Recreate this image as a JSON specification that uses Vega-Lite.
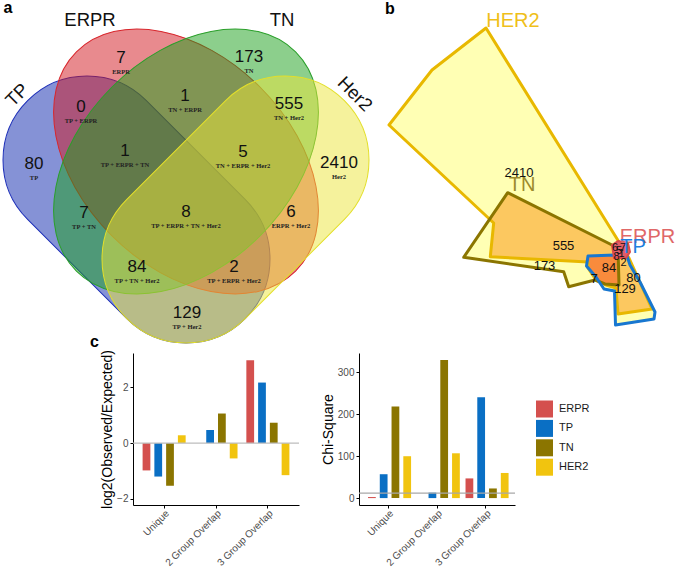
{
  "$schema": "https://vega.github.io/schema/vega-lite/v6.json",
  "padding": 0,
  "background": "white",
  "config": {
    "font": "Liberation Sans",
    "view": {"stroke": null},
    "axis": {"grid": false, "domainColor": "#000", "domainWidth": 1, "tickColor": "#000", "tickSize": 3, "tickWidth": 1, "labelColor": "#4d4d4d", "labelFontSize": 10, "labelFont": "Liberation Sans", "titleFont": "Liberation Sans", "titleFontSize": 14, "titleFontWeight": "normal", "titleColor": "#000", "titlePadding": 2, "labelPadding": 2}
  },
  "datasets": {
    "venn_shapes": [
      {"set": "TP", "vx": 134.5, "vy": 209.5},
      {"set": "ERPR", "vx": 184, "vy": 161.5},
      {"set": "TN", "vx": 184, "vy": 161.5},
      {"set": "Her2", "vx": 233.5, "vy": 209.5}
    ],
    "venn_regions": [
      {"lab": "ERPR", "n": "7", "vx": 119, "vy": 58},
      {"lab": "TN", "n": "173", "vx": 247, "vy": 57},
      {"lab": "TP + ERPR", "n": "0", "vx": 79, "vy": 107},
      {"lab": "TN + ERPR", "n": "1", "vx": 183, "vy": 96},
      {"lab": "TN + Her2", "n": "555", "vx": 287, "vy": 104},
      {"lab": "TP", "n": "80", "vx": 32, "vy": 164},
      {"lab": "TP + ERPR + TN", "n": "1", "vx": 123, "vy": 151},
      {"lab": "TN + ERPR + Her2", "n": "5", "vx": 241, "vy": 152},
      {"lab": "Her2", "n": "2410", "vx": 337, "vy": 163},
      {"lab": "TP + TN", "n": "7", "vx": 82, "vy": 213},
      {"lab": "TP + ERPR + TN + Her2", "n": "8", "vx": 184, "vy": 212},
      {"lab": "ERPR + Her2", "n": "6", "vx": 289, "vy": 212},
      {"lab": "TP + TN + Her2", "n": "84", "vx": 135, "vy": 267},
      {"lab": "TP + ERPR + Her2", "n": "2", "vx": 232, "vy": 267},
      {"lab": "TP + Her2", "n": "129", "vx": 185, "vy": 313}
    ],
    "venn_sets": [
      {"name": "ERPR", "vx": 88, "vy": 20},
      {"name": "TN", "vx": 280, "vy": 20},
      {"name": "TP", "vx": 15, "vy": 95},
      {"name": "Her2", "vx": 353, "vy": 94}
    ],
    "letters": [
      {"t": "a", "vx": 6, "vy": 8},
      {"t": "b", "vx": 388, "vy": 9}
    ],
    "polys": [
      {"poly": "HER2", "ord": 1, "vx": 484, "vy": 28},
      {"poly": "HER2", "ord": 2, "vx": 430, "vy": 70},
      {"poly": "HER2", "ord": 3, "vx": 387, "vy": 125},
      {"poly": "HER2", "ord": 4, "vx": 491.7, "vy": 223},
      {"poly": "HER2", "ord": 5, "vx": 488.3, "vy": 256.7},
      {"poly": "HER2", "ord": 6, "vx": 586, "vy": 262},
      {"poly": "HER2", "ord": 7, "vx": 586, "vy": 268},
      {"poly": "HER2", "ord": 8, "vx": 594, "vy": 280},
      {"poly": "HER2", "ord": 9, "vx": 604, "vy": 285},
      {"poly": "HER2", "ord": 10, "vx": 614, "vy": 288},
      {"poly": "HER2", "ord": 11, "vx": 616, "vy": 314},
      {"poly": "HER2", "ord": 12, "vx": 650, "vy": 309},
      {"poly": "HER2", "ord": 13, "vx": 627, "vy": 258},
      {"poly": "HER2", "ord": 14, "vx": 617, "vy": 242},
      {"poly": "TN", "ord": 1, "vx": 505.7, "vy": 192.7},
      {"poly": "TN", "ord": 2, "vx": 616, "vy": 248},
      {"poly": "TN", "ord": 3, "vx": 617, "vy": 285},
      {"poly": "TN", "ord": 4, "vx": 603, "vy": 284},
      {"poly": "TN", "ord": 5, "vx": 593, "vy": 280},
      {"poly": "TN", "ord": 6, "vx": 566.7, "vy": 286.7},
      {"poly": "TN", "ord": 7, "vx": 561.7, "vy": 271.7},
      {"poly": "TN", "ord": 8, "vx": 461.7, "vy": 257.3},
      {"poly": "TP", "ord": 1, "vx": 586, "vy": 256},
      {"poly": "TP", "ord": 2, "vx": 613, "vy": 255},
      {"poly": "TP", "ord": 3, "vx": 625, "vy": 256},
      {"poly": "TP", "ord": 4, "vx": 628, "vy": 265},
      {"poly": "TP", "ord": 5, "vx": 638, "vy": 282},
      {"poly": "TP", "ord": 6, "vx": 653, "vy": 312},
      {"poly": "TP", "ord": 7, "vx": 652, "vy": 319},
      {"poly": "TP", "ord": 8, "vx": 613.5, "vy": 325},
      {"poly": "TP", "ord": 9, "vx": 612.5, "vy": 291},
      {"poly": "TP", "ord": 10, "vx": 602, "vy": 289},
      {"poly": "TP", "ord": 11, "vx": 594, "vy": 277},
      {"poly": "TP", "ord": 12, "vx": 584.5, "vy": 266},
      {"poly": "ERPR", "ord": 1, "vx": 610, "vy": 245},
      {"poly": "ERPR", "ord": 2, "vx": 616, "vy": 241},
      {"poly": "ERPR", "ord": 3, "vx": 626, "vy": 243},
      {"poly": "ERPR", "ord": 4, "vx": 628, "vy": 252},
      {"poly": "ERPR", "ord": 5, "vx": 624, "vy": 258},
      {"poly": "ERPR", "ord": 6, "vx": 612, "vy": 258},
      {"poly": "TN&HER2", "ord": 1, "vx": 505.7, "vy": 192.7},
      {"poly": "TN&HER2", "ord": 2, "vx": 616, "vy": 248},
      {"poly": "TN&HER2", "ord": 3, "vx": 614, "vy": 258},
      {"poly": "TN&HER2", "ord": 4, "vx": 586, "vy": 262},
      {"poly": "TN&HER2", "ord": 5, "vx": 488.3, "vy": 256.7},
      {"poly": "TN&HER2", "ord": 6, "vx": 491.7, "vy": 223},
      {"poly": "TN&HER2", "ord": 7, "vx": 487.5, "vy": 219.3},
      {"poly": "TP&HER2", "ord": 1, "vx": 617, "vy": 250},
      {"poly": "TP&HER2", "ord": 2, "vx": 627, "vy": 258},
      {"poly": "TP&HER2", "ord": 3, "vx": 650, "vy": 309},
      {"poly": "TP&HER2", "ord": 4, "vx": 616, "vy": 314},
      {"poly": "TP&HER2", "ord": 5, "vx": 614, "vy": 288},
      {"poly": "TP&HER2", "ord": 6, "vx": 617, "vy": 285},
      {"poly": "TP&TN&HER2", "ord": 1, "vx": 586, "vy": 256},
      {"poly": "TP&TN&HER2", "ord": 2, "vx": 613, "vy": 255},
      {"poly": "TP&TN&HER2", "ord": 3, "vx": 616, "vy": 248},
      {"poly": "TP&TN&HER2", "ord": 4, "vx": 617, "vy": 285},
      {"poly": "TP&TN&HER2", "ord": 5, "vx": 603, "vy": 284},
      {"poly": "TP&TN&HER2", "ord": 6, "vx": 593, "vy": 280},
      {"poly": "TP&TN&HER2", "ord": 7, "vx": 584.5, "vy": 266}
    ],
    "b_nums": [
      {"n": "2410", "vx": 517, "vy": 172.5},
      {"n": "555", "vx": 561.5, "vy": 245.5},
      {"n": "173", "vx": 542.5, "vy": 265.5},
      {"n": "84", "vx": 607, "vy": 267.5},
      {"n": "7", "vx": 592, "vy": 279},
      {"n": "80", "vx": 631.5, "vy": 278},
      {"n": "129", "vx": 623, "vy": 289}
    ],
    "b_hub": [
      {"n": "6", "vx": 613, "vy": 247.5},
      {"n": "7", "vx": 621, "vy": 248},
      {"n": "5", "vx": 617, "vy": 251},
      {"n": "8", "vx": 614.5, "vy": 256.5},
      {"n": "1", "vx": 619.5, "vy": 254},
      {"n": "2", "vx": 621.5, "vy": 262.5}
    ],
    "b_sets": [
      {"name": "HER2", "vx": 511, "vy": 21},
      {"name": "TN", "vx": 520, "vy": 185},
      {"name": "ERPR", "vx": 645.5, "vy": 237},
      {"name": "TP", "vx": 631, "vy": 246.5}
    ],
    "bars": [
      {"cat": "Unique", "grp": "ERPR", "log2": -0.98, "chisq": 2.5},
      {"cat": "Unique", "grp": "TP", "log2": -1.2, "chisq": 57},
      {"cat": "Unique", "grp": "TN", "log2": -1.53, "chisq": 219},
      {"cat": "Unique", "grp": "HER2", "log2": 0.28, "chisq": 100},
      {"cat": "2 Group Overlap", "grp": "TP", "log2": 0.47, "chisq": 13},
      {"cat": "2 Group Overlap", "grp": "TN", "log2": 1.06, "chisq": 330},
      {"cat": "2 Group Overlap", "grp": "HER2", "log2": -0.55, "chisq": 107},
      {"cat": "3 Group Overlap", "grp": "ERPR", "log2": 2.97, "chisq": 47},
      {"cat": "3 Group Overlap", "grp": "TP", "log2": 2.17, "chisq": 241},
      {"cat": "3 Group Overlap", "grp": "TN", "log2": 0.73, "chisq": 23},
      {"cat": "3 Group Overlap", "grp": "HER2", "log2": -1.15, "chisq": 60}
    ]
  },
  "vconcat": [
    {
      "width": 675,
      "height": 340,
      "encoding": {
        "x": {"field": "vx", "type": "quantitative", "scale": {"domain": [0, 675], "nice": false, "zero": false}, "axis": null},
        "y": {"field": "vy", "type": "quantitative", "scale": {"domain": [0, 340], "nice": false, "zero": false, "reverse": true}, "axis": null}
      },
      "layer": [
        {"data": {"name": "venn_shapes"}, "transform": [{"filter": "datum.set === 'TP'"}],
         "mark": {"type": "point", "shape": "M-70,-84L70,-84C116.4,-84,154,-46.4,154,0C154,46.4,116.4,84,70,84L-70,84C-116.4,84,-154,46.4,-154,0C-154,-46.4,-116.4,-84,-70,-84Z", "size": 4, "angle": 45, "filled": true, "fill": "#0b25ad", "fillOpacity": 0.5, "stroke": "#1d2fb8", "strokeWidth": 1, "strokeOpacity": 1, "opacity": 1}},
        {"data": {"name": "venn_shapes"}, "transform": [{"filter": "datum.set === 'ERPR'"}],
         "mark": {"type": "point", "shape": "M155,0C155,58,85.6,105,0,105C-85.6,105,-155,58,-155,0C-155,-58,-85.6,-105,0,-105C85.6,-105,155,-58,155,0Z", "size": 4, "angle": 45, "filled": true, "fill": "#d1151d", "fillOpacity": 0.5, "stroke": "#d8262c", "strokeWidth": 1, "strokeOpacity": 1, "opacity": 1}},
        {"data": {"name": "venn_shapes"}, "transform": [{"filter": "datum.set === 'TN'"}],
         "mark": {"type": "point", "shape": "M155,0C155,58,85.6,105,0,105C-85.6,105,-155,58,-155,0C-155,-58,-85.6,-105,0,-105C85.6,-105,155,-58,155,0Z", "size": 4, "angle": -45, "filled": true, "fill": "#199f19", "fillOpacity": 0.5, "stroke": "#2a9f2a", "strokeWidth": 1, "strokeOpacity": 1, "opacity": 1}},
        {"data": {"name": "venn_shapes"}, "transform": [{"filter": "datum.set === 'Her2'"}],
         "mark": {"type": "point", "shape": "M-70,-84L70,-84C116.4,-84,154,-46.4,154,0C154,46.4,116.4,84,70,84L-70,84C-116.4,84,-154,46.4,-154,0C-154,-46.4,-116.4,-84,-70,-84Z", "size": 4, "angle": -45, "filled": true, "fill": "#ebe539", "fillOpacity": 0.5, "stroke": "#e3df2a", "strokeWidth": 1, "strokeOpacity": 1, "opacity": 1}},
        {"data": {"name": "venn_regions"},
         "mark": {"type": "text", "fontSize": 17, "color": "#111"},
         "encoding": {"text": {"field": "n"}}},
        {"data": {"name": "venn_regions"},
         "mark": {"type": "text", "font": "Liberation Serif", "fontWeight": "bold", "fontSize": 6.5, "dy": 13.5, "color": "#222"},
         "encoding": {"text": {"field": "lab"}}},
        {"data": {"name": "venn_sets"}, "transform": [{"filter": "datum.name === 'ERPR' || datum.name === 'TN'"}],
         "mark": {"type": "text", "fontSize": 18.5, "color": "#111"},
         "encoding": {"text": {"field": "name"}}},
        {"data": {"name": "venn_sets"}, "transform": [{"filter": "datum.name === 'TP'"}],
         "mark": {"type": "text", "fontSize": 18.5, "color": "#111", "angle": -45},
         "encoding": {"text": {"field": "name"}}},
        {"data": {"name": "venn_sets"}, "transform": [{"filter": "datum.name === 'Her2'"}],
         "mark": {"type": "text", "fontSize": 18.5, "color": "#111", "angle": 45},
         "encoding": {"text": {"field": "name"}}},
        {"data": {"name": "letters"},
         "mark": {"type": "text", "fontSize": 16, "fontWeight": "bold", "color": "#000"},
         "encoding": {"text": {"field": "t"}}},
        {"data": {"name": "polys"}, "transform": [{"filter": "datum.poly === 'HER2'"}],
         "mark": {"type": "line", "interpolate": "linear-closed", "fill": "#ffffb4", "stroke": "#ffffb4", "strokeWidth": 0.5},
         "encoding": {"order": {"field": "ord", "type": "quantitative"}}},
        {"data": {"name": "polys"}, "transform": [{"filter": "datum.poly === 'TN'"}],
         "mark": {"type": "line", "interpolate": "linear-closed", "fill": "#ffffb4", "stroke": "#ffffb4", "strokeWidth": 0.5},
         "encoding": {"order": {"field": "ord", "type": "quantitative"}}},
        {"data": {"name": "polys"}, "transform": [{"filter": "datum.poly === 'TP'"}],
         "mark": {"type": "line", "interpolate": "linear-closed", "fill": "#ffffb4", "stroke": "#ffffb4", "strokeWidth": 0.5},
         "encoding": {"order": {"field": "ord", "type": "quantitative"}}},
        {"data": {"name": "polys"}, "transform": [{"filter": "datum.poly === 'TN&HER2'"}],
         "mark": {"type": "line", "interpolate": "linear-closed", "fill": "#fcc860", "stroke": "#fcc860", "strokeWidth": 0.5},
         "encoding": {"order": {"field": "ord", "type": "quantitative"}}},
        {"data": {"name": "polys"}, "transform": [{"filter": "datum.poly === 'TP&HER2'"}],
         "mark": {"type": "line", "interpolate": "linear-closed", "fill": "#fcc860", "stroke": "#fcc860", "strokeWidth": 0.5},
         "encoding": {"order": {"field": "ord", "type": "quantitative"}}},
        {"data": {"name": "polys"}, "transform": [{"filter": "datum.poly === 'TP&TN&HER2'"}],
         "mark": {"type": "line", "interpolate": "linear-closed", "fill": "#f98b3c", "stroke": "#f98b3c", "strokeWidth": 0.5},
         "encoding": {"order": {"field": "ord", "type": "quantitative"}}},
        {"data": {"name": "polys"}, "transform": [{"filter": "datum.poly === 'HER2'"}],
         "mark": {"type": "line", "interpolate": "linear-closed", "stroke": "#e8b800", "strokeWidth": 3, "strokeJoin": "round"},
         "encoding": {"order": {"field": "ord", "type": "quantitative"}}},
        {"data": {"name": "polys"}, "transform": [{"filter": "datum.poly === 'TN'"}],
         "mark": {"type": "line", "interpolate": "linear-closed", "stroke": "#8b7500", "strokeWidth": 3, "strokeJoin": "round"},
         "encoding": {"order": {"field": "ord", "type": "quantitative"}}},
        {"data": {"name": "polys"}, "transform": [{"filter": "datum.poly === 'TP'"}],
         "mark": {"type": "line", "interpolate": "linear-closed", "stroke": "#1877d0", "strokeWidth": 3, "strokeJoin": "round"},
         "encoding": {"order": {"field": "ord", "type": "quantitative"}}},
        {"data": {"name": "polys"}, "transform": [{"filter": "datum.poly === 'ERPR'"}],
         "mark": {"type": "line", "interpolate": "linear-closed", "fill": "#e25d67", "stroke": "#dc4b4b", "strokeWidth": 2, "strokeJoin": "round"},
         "encoding": {"order": {"field": "ord", "type": "quantitative"}}},
        {"data": {"name": "b_nums"},
         "mark": {"type": "text", "fontSize": 13, "color": "#111"},
         "encoding": {"text": {"field": "n"}}},
        {"data": {"name": "b_hub"},
         "mark": {"type": "text", "fontSize": 11, "color": "#111"},
         "encoding": {"text": {"field": "n"}}},
        {"data": {"name": "b_sets"}, "transform": [{"filter": "datum.name === 'HER2'"}],
         "mark": {"type": "text", "fontSize": 20, "color": "#efbf1a"},
         "encoding": {"text": {"field": "name"}}},
        {"data": {"name": "b_sets"}, "transform": [{"filter": "datum.name === 'TN'"}],
         "mark": {"type": "text", "fontSize": 20, "color": "#9c8a2c"},
         "encoding": {"text": {"field": "name"}}},
        {"data": {"name": "b_sets"}, "transform": [{"filter": "datum.name === 'ERPR'"}],
         "mark": {"type": "text", "fontSize": 20, "color": "#e06868"},
         "encoding": {"text": {"field": "name"}}},
        {"data": {"name": "b_sets"}, "transform": [{"filter": "datum.name === 'TP'"}],
         "mark": {"type": "text", "fontSize": 20, "color": "#2080e0"},
         "encoding": {"text": {"field": "name"}}}
      ]
    },
    {
      "hconcat": [
        {
          "width": 71,
          "height": 152,
          "data": {"values": [{"t": "c", "px": 88, "py": -6}]},
          "mark": {"type": "text", "fontSize": 16, "fontWeight": "bold", "align": "left", "baseline": "alphabetic", "color": "#000"},
          "encoding": {
            "x": {"field": "px", "type": "quantitative", "scale": {"domain": [0, 71], "nice": false, "zero": false}, "axis": null},
            "y": {"field": "py", "type": "quantitative", "scale": {"domain": [0, 152], "nice": false, "zero": false, "reverse": true}, "axis": null},
            "text": {"field": "t"}
          }
        },
        {
          "width": 166,
          "height": 152,
          "layer": [
            {
              "data": {"name": "bars"},
              "mark": {"type": "bar"},
              "encoding": {
                "x": {"field": "cat", "type": "nominal", "sort": ["Unique", "2 Group Overlap", "3 Group Overlap"], "scale": {"paddingInner": 0.17, "paddingOuter": 0.185}, "axis": {"title": null, "labelAngle": -45, "labelAlign": "right", "labelBaseline": "top", "labelFontSize": 10, "labelPadding": 0}},
                "xOffset": {"field": "grp", "type": "nominal", "sort": ["ERPR", "TP", "TN", "HER2"], "scale": {"paddingInner": 0.34, "paddingOuter": 0}},
                "y": {"field": "log2", "type": "quantitative", "scale": {"domain": [-2.22, 3.23], "nice": false, "zero": false}, "axis": {"title": "log2(Observed/Expected)", "values": [-2, -1, 0, 1, 2, 3]}},
                "color": {"field": "grp", "type": "nominal", "scale": {"domain": ["ERPR", "TP", "TN", "HER2"], "range": ["#d4504e", "#0a6fc4", "#8b7500", "#f1c40f"]}, "legend": null}
              }
            },
            {
              "data": {"values": [{}]},
              "mark": {"type": "rule", "color": "#bdbdbd", "strokeWidth": 1.3},
              "encoding": {"y": {"datum": 0}}
            }
          ]
        },
        {
          "width": 156,
          "height": 152,
          "layer": [
            {
              "data": {"name": "bars"},
              "mark": {"type": "bar"},
              "encoding": {
                "x": {"field": "cat", "type": "nominal", "sort": ["Unique", "2 Group Overlap", "3 Group Overlap"], "scale": {"paddingInner": 0.17, "paddingOuter": 0.185}, "axis": {"title": null, "labelAngle": -45, "labelAlign": "right", "labelBaseline": "top", "labelFontSize": 10, "labelPadding": 0}},
                "xOffset": {"field": "grp", "type": "nominal", "sort": ["ERPR", "TP", "TN", "HER2"], "scale": {"paddingInner": 0.34, "paddingOuter": 0}},
                "y": {"field": "chisq", "type": "quantitative", "scale": {"domain": [-16.5, 346.5], "nice": false, "zero": false}, "axis": {"title": "Chi-Square", "values": [0, 100, 200, 300]}},
                "color": {"field": "grp", "type": "nominal", "scale": {"domain": ["ERPR", "TP", "TN", "HER2"], "range": ["#d4504e", "#0a6fc4", "#8b7500", "#f1c40f"]},
                  "legend": {"title": null, "orient": "none", "legendX": 177, "legendY": 47.5, "symbolType": "square", "symbolSize": 289, "symbolStrokeWidth": 0, "symbolOpacity": 1, "labelFontSize": 11, "labelColor": "#1a1a1a", "rowPadding": 2.4, "labelOffset": 6, "padding": 0}}
              }
            },
            {
              "data": {"values": [{}]},
              "mark": {"type": "rule", "color": "#a8a8a8", "strokeWidth": 1.2},
              "encoding": {"y": {"datum": 12}}
            }
          ]
        }
      ],
      "spacing": 60,
      "bounds": "flush",
      "resolve": {"scale": {"color": "independent"}, "legend": {"color": "independent"}}
    }
  ],
  "spacing": 13,
  "bounds": "flush"
}
